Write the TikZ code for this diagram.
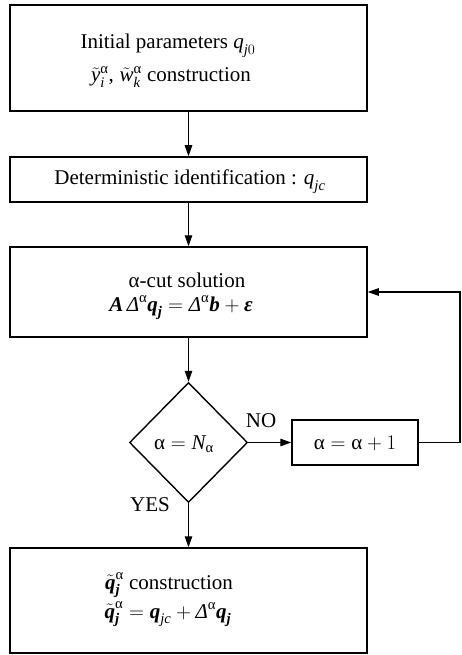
\documentclass[tikz,border=0pt]{standalone}
\usepackage{amsmath}
\usepackage{fontspec}
\setmainfont{Liberation Serif}
\usetikzlibrary{shapes.geometric,arrows.meta}
\newcommand{\mi}[1]{\text{\itshape #1}}
\newcommand{\mbi}[1]{\text{\bfseries\itshape #1}}
\newcommand{\mup}[1]{\text{\upshape #1}}
\begin{document}
\begin{tikzpicture}[x=1pt,y=-1pt,
  font=\fontsize{21}{25}\selectfont,
  box/.style={draw, line width=1.5pt, inner sep=0pt, rectangle},
  lbl/.style={inner sep=0pt, anchor=base},
  arr/.style={-{Triangle[length=11pt,width=7.5pt]}, line width=1.1pt}]
\useasboundingbox (0,0) rectangle (462,655);
% boxes
\node[box, minimum width=357pt, minimum height=106pt] (b1) at (188.5,58) {};
\node[box, minimum width=357pt, minimum height=45pt] (b2) at (188.5,179.5) {};
\node[box, minimum width=357pt, minimum height=90pt] (b3) at (188.5,292) {};
\node[draw, diamond, line width=1.4pt, inner sep=0pt, minimum width=118pt, minimum height=120pt] (d) at (188.5,442.5) {};
\node[box, minimum width=126pt, minimum height=45pt] (b5) at (355,442.5) {};
\node[box, minimum width=357pt, minimum height=105pt] (b4) at (188.5,600.5) {};
% texts
\node[lbl] (t1a) at (168,49) {Initial parameters $\mi{q}_{\mi{j}0}$};
\node[lbl] (t1b) at (171,82) {$\tilde{\mi{y}}_{\mi{i}}^{\mup{α}}\mup{,}\;\tilde{\mi{w}}_{\mi{k}}^{\mup{α}}$ construction};
\node[lbl] (t2) at (190,185) {Deterministic identification : $\mi{q}_{\mi{jc}}$};
\node[lbl] (t3a) at (187,287) {α-cut solution};
\node[lbl] (t3b) at (181,311) {$\mbi{A}\,\mi{Δ}^{\mup{α}}\mbi{q}_{\mbi{j}} = \mi{Δ}^{\mup{α}}\mbi{b} + \mbi{ε}$};
\node[lbl] (td) at (184,449) {$\mup{α} = \mi{N}_{\mup{α}}$};
\node[lbl] (t5) at (355,449) {$\mup{α} = \mup{α} + 1$};
\node[lbl] (no) at (261,427) {NO};
\node[lbl] (yes) at (150,511) {YES};
\node[lbl] (t4a) at (169,589) {$\tilde{\mbi{q}}_{\mbi{j}}^{\mup{α}}$ construction};
\node[lbl] (t4b) at (168,618) {$\tilde{\mbi{q}}_{\mbi{j}}^{\mup{α}} = \mbi{q}_{\mi{jc}} + \mi{Δ}^{\mup{α}}\mbi{q}_{\mbi{j}}$};
% connectors
\coordinate (r1) at (460,442.5);
\coordinate (r2) at (460,292);
\draw[arr] (b1.south) -- (b2.north);
\draw[arr] (b2.south) -- (b3.north);
\draw[arr] (b3.south) -- (d.north);
\draw[arr] (d.east) -- (b5.west);
\draw[arr] (d.south) -- (b4.north);
\draw[arr] (b5.east) -- (r1) -- (r2) -- (b3.east);
\end{tikzpicture}
\end{document}
